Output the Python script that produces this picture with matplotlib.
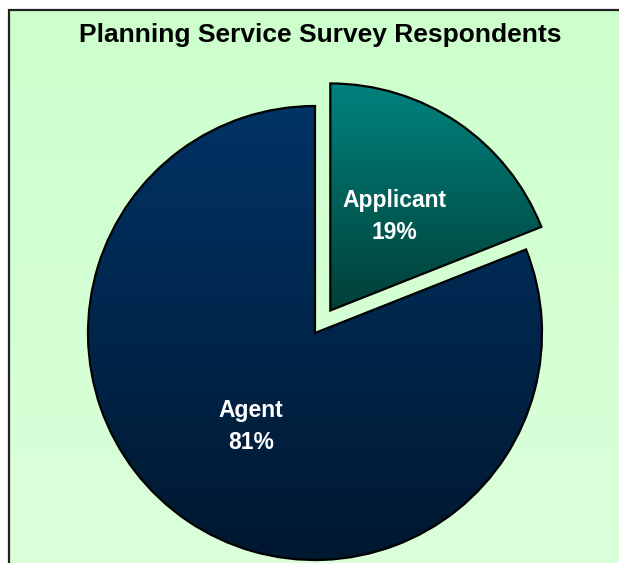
import matplotlib.pyplot as plt
import numpy as np
from matplotlib.colors import LinearSegmentedColormap

# Survey respondents by type
labels = ["Applicant", "Agent"]
shares = [19, 81]

# top / bottom colours of each slice gradient
slice_colours = [("#00837e", "#003f38"), ("#003366", "#001830")]

W, H = 619, 563
fig = plt.figure(figsize=(W / 100, H / 100), dpi=100, facecolor="white")
ax = fig.add_axes([0, 0, 1, 1])

# ---------------------------------------------------------------------
# Chart area background with soft vertical gradient
# ---------------------------------------------------------------------
x0, y0 = 9, 10
bg = LinearSegmentedColormap.from_list("bg", ["#ccffcc", "#dbffdb"])
ax.imshow(np.linspace(0, 1, 256).reshape(-1, 1), cmap=bg, aspect="auto",
          extent=[x0, W + 2, 0, H - y0], zorder=0)
ax.plot([x0, x0, W + 5], [0, H - y0, H - y0], color="#222222", lw=1.6,
        zorder=1, solid_joinstyle="miter")

# ---------------------------------------------------------------------
# Pie (Applicant slice pulled out)
# ---------------------------------------------------------------------
cx, cy, r = 315, H - 333, 227
wedges, texts = ax.pie(
    shares,
    labels=[f"{lab}\n{v}%" for lab, v in zip(labels, shares)],
    explode=[0.12 * r, 0.0],
    startangle=90,
    counterclock=False,
    center=(cx, cy),
    radius=r,
    labeldistance=0.5,
    frame=True,
    textprops=dict(color="white", fontsize=16.5, fontweight="bold",
                   family="Liberation Sans"),
    wedgeprops=dict(edgecolor="black", linewidth=1.6, facecolor="none"),
)

for w, (top, bottom) in zip(wedges, slice_colours):
    w.set_zorder(4)
    ext = w.get_path().get_extents()
    cmap = LinearSegmentedColormap.from_list("g", [bottom, top])
    im = ax.imshow(np.linspace(0, 1, 256).reshape(-1, 1), cmap=cmap,
                   origin="lower", aspect="auto",
                   extent=[ext.x0, ext.x1, ext.y0, ext.y1], zorder=3)
    im.set_clip_path(w)

for t in texts:
    t.set_ha("center")
    t.set_va("center")
    t.set_multialignment("center")
    t.set_linespacing(1.5)
    t.set_zorder(5)

ax.text(320, H - 35, "Planning Service Survey Respondents", ha="center",
        va="center", fontsize=19, fontweight="bold", family="Liberation Sans")

ax.set_xlim(0, W)
ax.set_ylim(0, H)
ax.set_aspect("auto")
ax.axis("off")

fig.savefig("out.png", dpi=100, facecolor="white")
